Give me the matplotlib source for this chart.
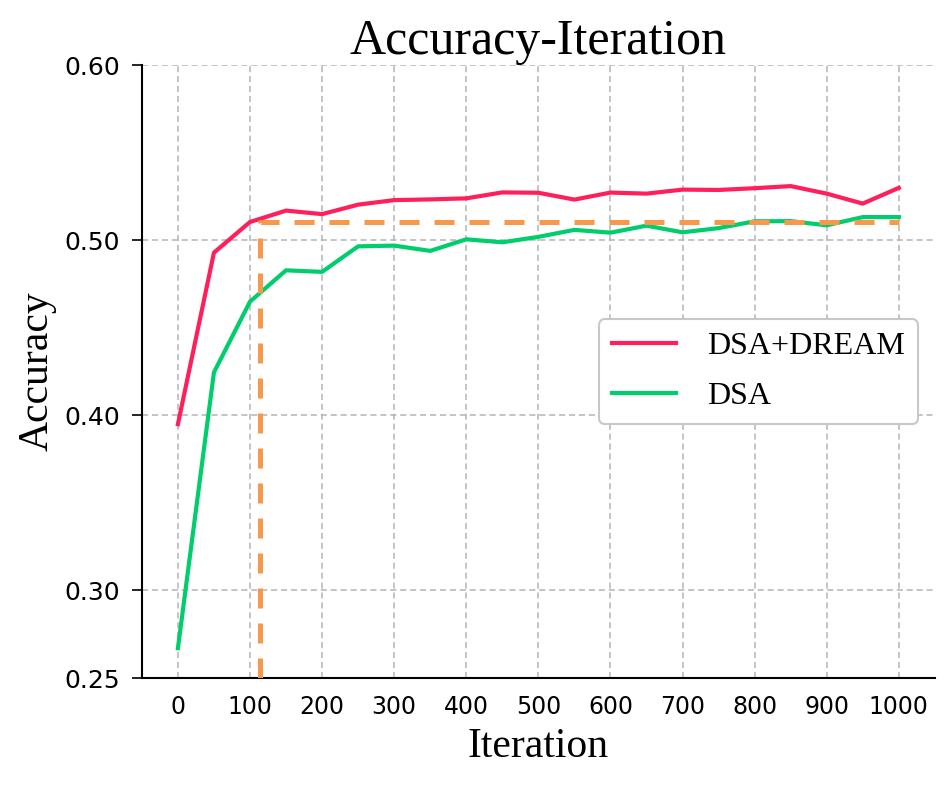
import numpy as np
import matplotlib
matplotlib.use("Agg")
import matplotlib.pyplot as plt
from matplotlib import font_manager

iterations = [0, 50, 100, 150, 200, 250, 300, 350, 400, 450, 500,
              550, 600, 650, 700, 750, 800, 850, 900, 950, 1000]
acc_dream = [0.395, 0.493, 0.5105, 0.517, 0.515, 0.5204, 0.523, 0.5234, 0.524, 0.5274, 0.5272,
             0.5233, 0.5273, 0.5267, 0.529, 0.5288, 0.5298, 0.531, 0.5267, 0.521, 0.530]
acc_dsa = [0.267, 0.4246, 0.465, 0.4829, 0.482, 0.4966, 0.497, 0.494, 0.5006, 0.4989, 0.502,
           0.506, 0.5044, 0.5084, 0.5046, 0.507, 0.5109, 0.511, 0.5086, 0.5133, 0.5133]
# orange guide: iteration where DSA+DREAM reaches final DSA accuracy
guide_x = [114, 114, 1000]
guide_y = [0.25, 0.5105, 0.5105]

yticks = [0.25, 0.30, 0.40, 0.50, 0.60]
xticks = list(range(0, 1001, 100))

names = {f.name for f in font_manager.fontManager.ttflist}
serif = "Liberation Serif"
xtick_font = "DejaVu Sans Condensed" if "DejaVu Sans Condensed" in names else "Liberation Sans Narrow" if "Liberation Sans Narrow" in names else "DejaVu Sans"

fig = plt.figure(figsize=(9.52, 7.87), dpi=100)
ax = fig.add_axes([0.149, 0.1385, 0.833, 0.7785])

ax.plot(iterations, acc_dream, color="#ff1f5b", lw=3.0, label="DSA+DREAM", zorder=3)
ax.plot(iterations, acc_dsa, color="#00cd6c", lw=3.0, label="DSA", zorder=3)
ax.plot(guide_x, guide_y, color="#f8984b", lw=3.6, dashes=(4, 3), zorder=4)

ax.set_xlim(-50, 1050)
ax.set_ylim(0.25, 0.60)
ax.set_xticks(xticks)
ax.set_yticks(yticks)
ax.set_yticklabels([f"{v:.2f}" for v in yticks], fontsize=18, family="DejaVu Sans")
ax.set_xticklabels([str(v) for v in xticks], fontsize=17, family=xtick_font)
ax.tick_params(axis="x", length=0, pad=12)
ax.tick_params(axis="y", length=7, width=1.2, pad=9)

ax.grid(True, color="#b4b4b4", linestyle=(0, (4, 2.5)), lw=1.1)
ax.spines["top"].set_visible(False)
ax.spines["right"].set_visible(False)
ax.spines["left"].set_linewidth(1.5)
ax.spines["bottom"].set_linewidth(1.5)

ax.set_title("Accuracy-Iteration", fontsize=36, family=serif, pad=8)
ax.set_xlabel("Iteration", fontsize=30, family=serif, labelpad=6)
ax.set_ylabel("Accuracy", fontsize=30, family=serif, labelpad=5)

leg = ax.legend(loc="center right", bbox_to_anchor=(0.979, 0.5), borderaxespad=0,
                prop={"family": serif, "size": 23},
                handlelength=2.0, borderpad=0.4, labelspacing=0.65, handletextpad=1.0,
                fancybox=True, framealpha=1.0, edgecolor="#c8c8c8")
leg.get_frame().set_linewidth(1.5)

fig.savefig("out.png", dpi=100)
